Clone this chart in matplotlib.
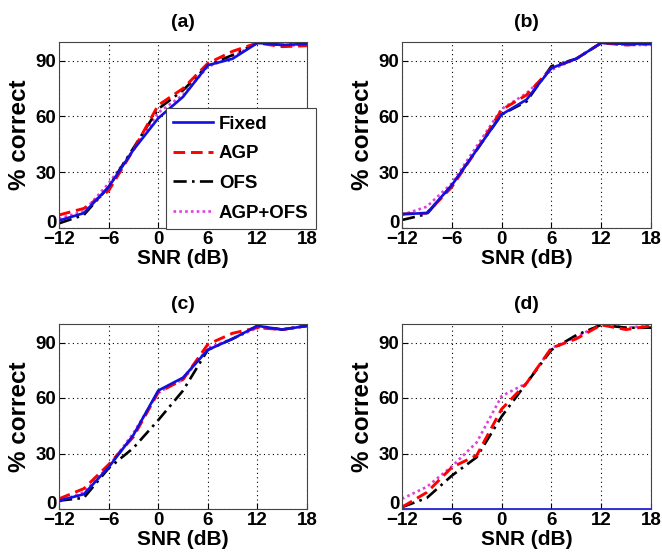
import numpy as np
import matplotlib
matplotlib.use('Agg')
import matplotlib.pyplot as plt
import matplotlib.transforms as mtransforms

plt.rcParams['font.family'] = ['Liberation Sans', 'DejaVu Sans']
plt.rcParams['font.weight'] = 'bold'

snr = [-12, -9, -6, -3, 0, 3, 6, 9, 12, 15, 18]
methods = ['Fixed', 'AGP', 'OFS', 'AGP+OFS']
panel_titles = ['(a)', '(b)', '(c)', '(d)']

# % correct per panel, per method
fixed_a = [4, 8, 22, 42, 59, 70.5, 87.5, 91, 99.5, 98.4, 99]
agp_a = [7, 10.5, 20, 42, 66, 75, 88.5, 95, 99.5, 97.5, 98]
ofs_a = [2.5, 7, 22, 43, 64, 74, 87.5, 93, 99.5, 98.4, 99]
both_a = [5, 9, 24, 42, 62, 71.5, 86.7, 92, 99.5, 98.4, 98]

fixed_b = [7.5, 8, 23, 42, 61, 69, 86, 91, 99.5, 99, 99]
agp_b = [7.5, 8, 22, 42, 63.5, 71.5, 86, 91, 99.5, 98.4, 99]
ofs_b = [4.3, 7.5, 23, 42, 61, 68, 87, 91, 99.5, 99, 99.6]
both_b = [7, 11.5, 24, 44, 64, 72.4, 85, 91, 99.5, 98.4, 98.4]

fixed_c = [4.5, 8, 22.5, 40, 64, 71, 86, 92, 99, 97, 99]
agp_c = [5.5, 11, 24, 39, 63, 70, 89, 95, 98, 97, 99]
ofs_c = [4.5, 6, 22, 33, 48, 64, 86, 92, 99, 97, 99]
both_c = [4, 9, 23, 41, 63, 70, 87, 92, 98, 97, 99]

fixed_d = [0, 0, 0, 0, 0, 0, 0, 0, 0, 0, 0]
agp_d = [1, 9, 22.5, 29, 54, 68, 87, 92, 99.5, 97, 99]
ofs_d = [1, 6, 18, 28, 50, 68, 86, 94, 99.5, 98, 98]
both_d = [5.5, 12, 23, 36, 61, 68, 87, 93, 100, 98, 99]

panels = [
    [fixed_a, agp_a, ofs_a, both_a],
    [fixed_b, agp_b, ofs_b, both_b],
    [fixed_c, agp_c, ofs_c, both_c],
    [fixed_d, agp_d, ofs_d, both_d],
]

styles = [
    dict(color='#1010e0', linestyle='-', linewidth=1.9),
    dict(color='#ff0000', linestyle=(0, (4, 2)), linewidth=2.1),
    dict(color='black', linestyle=(0, (5, 2, 1, 2)), linewidth=1.9),
    dict(color='#e040e0', linestyle=(0, (1, 1.2)), linewidth=1.9),
]

W, H = 662, 560
fig = plt.figure(figsize=(W / 100, H / 100), dpi=100)
# axes boxes in pixels: left, top, right, bottom
boxes = [(59, 42, 307, 228), (402, 42, 651, 228),
         (59, 324, 307, 509), (402, 324, 651, 509)]

for i, (l, t, r, b) in enumerate(boxes):
    ax = fig.add_axes([l / W, 1 - b / H, (r - l) / W, (b - t) / H])
    # draw in reverse so the blue line ends up on top
    lines = {}
    for k in [3, 2, 1, 0]:
        ln, = ax.plot(snr, panels[i][k], label=methods[k], **styles[k])
        lines[k] = ln
    ax.set_xlim(-12, 18)
    ax.set_ylim(0, 100)
    ax.set_xticks([-12, -6, 0, 6, 12, 18])
    ax.set_xticklabels(['\u221212', '\u22126', '0', '6', '12', '18'])
    ax.set_yticks([0, 30, 60, 90])
    ax.grid(True, linestyle=(0, (1, 3)), color='black', linewidth=0.8)
    ax.tick_params(direction='in', labelsize=13.5, length=4, pad=2)
    # lift the "0" label a bit so it clears the x tick labels
    ylab0 = ax.get_yticklabels()[0]
    ylab0.set_transform(ylab0.get_transform() +
                        mtransforms.ScaledTranslation(0, 5 / 72, fig.dpi_scale_trans))
    for sp in ax.spines.values():
        sp.set_color('#444444')
        sp.set_linewidth(0.8)
    ax.set_title(panel_titles[i], fontsize=14, fontweight='bold', pad=11)
    ax.set_xlabel('SNR (dB)', fontsize=15, fontweight='bold', labelpad=1)
    ax.set_ylabel('% correct', fontsize=17.5, fontweight='bold', labelpad=3)
    if i == 0:
        leg = ax.legend([lines[k] for k in range(4)], methods,
                        loc='upper left', bbox_to_anchor=(0.431, 0.645),
                        fontsize=13.4, fancybox=False, framealpha=1,
                        edgecolor='#444444', handlelength=2.15,
                        borderpad=0.4, labelspacing=0.68,
                        handletextpad=0.3, borderaxespad=0)
        leg.get_frame().set_linewidth(0.8)
        for txt in leg.get_texts():
            txt.set_fontweight('bold')

fig.savefig('out.png', dpi=100)
